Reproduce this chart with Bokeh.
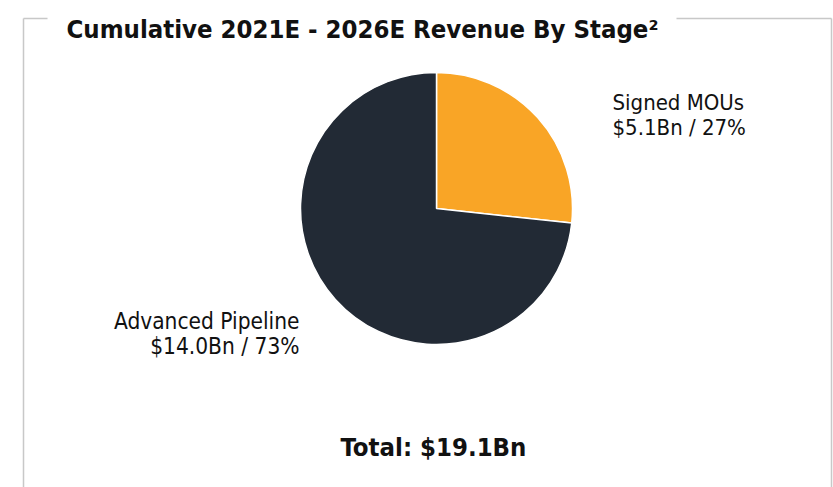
import math
from bokeh.plotting import figure
from bokeh.models import Range1d, Label
from bokeh.embed import file_html
from bokeh.resources import INLINE

# Data
stages = ["Signed MOUs", "Advanced Pipeline"]
revenue_bn = [5.1, 14.0]
shares_pct = [27, 73]
colors = ["#F9A526", "#222A35"]
title_text = "Cumulative 2021E - 2026E Revenue By Stage\u00b2"
total_label = "Total: $19.1Bn"

W, H = 833, 487
p = figure(width=W, height=H, output_backend="svg", toolbar_location=None,
           x_range=Range1d(0, W), y_range=Range1d(0, H), min_border=0,
           outline_line_color=None)
p.axis.visible = False
p.grid.visible = False
p.background_fill_color = "white"
p.border_fill_color = "white"

def py(y):  # pixel-from-top -> data y
    return H - y
def px(x):
    return x

FONT = "DejaVu Sans Condensed"

# frame lines
border = "#C8C8C8"
p.line([px(23), px(23)], [py(18), py(500)], line_color=border, line_width=1.5)
p.line([px(23), px(47)], [py(18), py(18)], line_color=border, line_width=1.5)
p.line([px(676), px(831)], [py(18), py(18)], line_color=border, line_width=1.5)
p.line([px(831), px(831)], [py(18), py(500)], line_color=border, line_width=1.5)

# Pie
total = sum(revenue_bn)
cx, cy, r = px(436), py(208), 136
a = math.pi / 2
angles = []
for v in revenue_bn:
    sweep = v / total * 2 * math.pi
    angles.append((a - sweep, a))
    a -= sweep
for (s, e), c in zip(angles, colors):
    p.wedge(x=cx, y=cy, radius=r, start_angle=s, end_angle=e, direction="anticlock",
            fill_color=c, line_color="white", line_width=1.5)

# Title
p.add_layout(Label(x=px(66), y=py(28), text=title_text, text_font=FONT,
                   text_font_style="bold", text_font_size="25.5px", text_color="#111111",
                   text_baseline="alphabetic", text_align="left"))

# Slice labels
lab1 = [stages[0], f"${revenue_bn[0]:.1f}Bn / {shares_pct[0]}%"]
lab2 = [stages[1], f"${revenue_bn[1]:.1f}Bn / {shares_pct[1]}%"]
for i, t in enumerate(lab1):
    p.add_layout(Label(x=px(612), y=py(102 + 25 * i), text=t, text_font=FONT,
                       text_font_size="22px", text_color="#111111",
                       text_baseline="alphabetic", text_align="left"))
for i, t in enumerate(lab2):
    p.add_layout(Label(x=px(299), y=py(320 + 25 * i), text=t, text_font=FONT,
                       text_font_size="22.5px", text_color="#111111",
                       text_baseline="alphabetic", text_align="right"))

p.add_layout(Label(x=px(433), y=py(446), text=total_label, text_font=FONT,
                   text_font_style="bold", text_font_size="25.5px", text_color="#111111",
                   text_baseline="alphabetic", text_align="center"))

open("out.html", "w").write(file_html(p, INLINE))
